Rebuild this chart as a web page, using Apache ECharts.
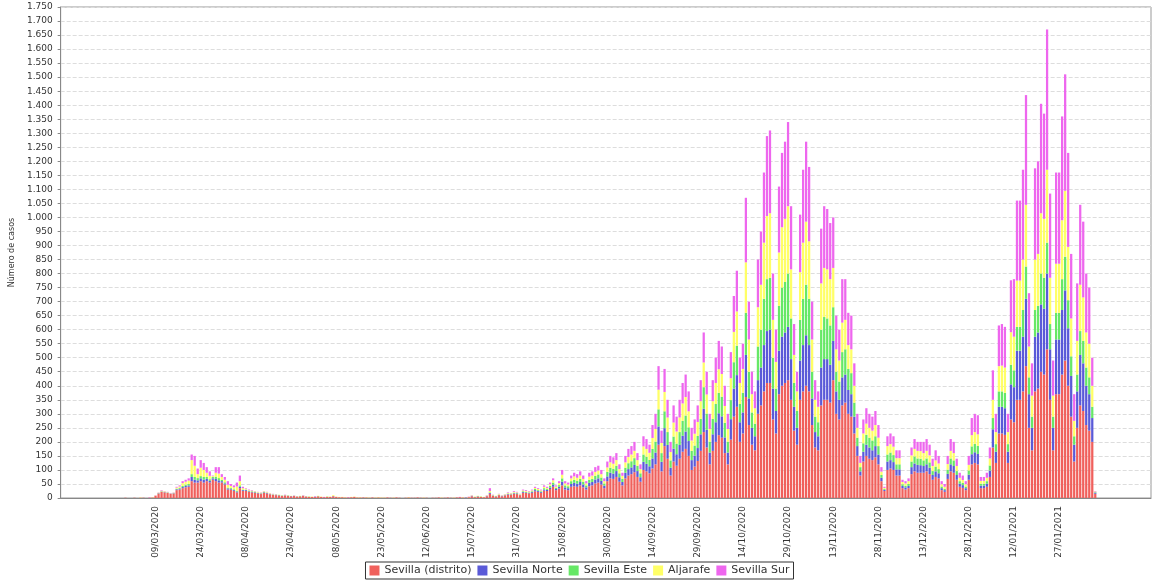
<!DOCTYPE html>
<html><head><meta charset="utf-8">
<script src="https://cdn.jsdelivr.net/npm/echarts@6/dist/echarts.min.js"></script>
<style>html,body{margin:0;padding:0;background:#fff}#c{width:1159px;height:581px}</style>
</head><body><div id="c"></div>
<script>
const seriesNames = ['Sevilla (distrito)','Sevilla Norte','Sevilla Este','Aljarafe','Sevilla Sur'];
const colors = ['#f0605c','#5a5ad8','#66e866','#ffff66','#ee66ee'];
// first data value is 26/02/2020
const startDate = '2020-02-07';
const dataOffset = 19;
const totalCategories = 362;
const lastLabelIndex = 331;
const skippedDates = ['2020-05-24','2020-05-31','2020-06-01','2020-06-07','2020-06-08',
 '2020-06-13','2020-06-14','2020-06-16','2020-06-18','2020-06-20','2020-06-21','2020-06-23','2020-06-25','2020-06-27','2020-06-28','2020-06-30',
 '2020-07-02','2020-07-04','2020-07-05','2020-07-07','2020-07-09','2020-07-11','2020-07-12','2020-07-19'];
const red = [
0,0,1,0,0,1,0,1,1,0,1,2,
8,16,22,20,18,15,16,28,30,35,38,40,60,55,55,60,55,60,55,65,60,55,55,48,30,30,25,20,35,25,
25,22,20,18,16,14,18,16,13,11,10,9,7,9,7,6,7,5,6,7,5,4,4,4,6,4,3,4,4,6,4,3,3,2,2,3,4,2,2,2,2,1,2,1,2,1,
1,2,1,1,2,1,0,1,2,1,1,2,1,1,1,0,1,1,2,1,1,2,1,1,2,3,2,1,3,
6,3,5,4,3,6,15,8,5,10,6,9,12,12,15,14,10,18,18,16,18,24,22,18,26,25,32,40,28,34,
45,30,28,40,42,40,45,38,30,42,45,52,55,48,35,60,70,68,75,58,45,70,80,85,92,75,58,100,95,88,
105,120,190,95,185,140,80,130,115,140,165,175,150,100,112,132,168,235,180,120,168,200,224,215,160,120,208,290,325,200,
230,360,260,190,170,300,330,380,410,410,280,230,370,400,410,420,350,240,190,350,380,400,380,260,180,170,330,350,350,340,
420,300,280,330,340,300,290,230,150,80,130,150,140,135,145,120,60,25,100,105,100,80,80,35,30,35,85,95,90,90,
90,95,85,65,75,70,28,22,68,95,90,65,40,36,28,65,120,125,120,35,35,40,75,180,125,230,230,225,125,280,
270,350,350,380,470,250,170,380,390,450,440,530,350,170,370,370,440,490,400,290,130,250,330,310,260,240,200,15];
const blue = [
0,0,0,0,0,0,0,0,0,0,0,0,
0,1,1,1,1,1,1,3,3,4,5,5,15,10,8,10,10,8,6,5,8,8,5,4,4,3,3,3,5,3,
3,2,2,2,2,2,2,2,1,1,1,1,1,1,1,1,0,1,0,1,1,0,0,1,0,0,0,0,0,1,0,0,0,0,0,0,0,0,0,0,0,0,0,0,0,0,
0,0,0,0,0,0,0,0,0,0,0,0,0,0,0,0,0,0,0,0,0,0,0,0,0,0,0,1,0,
1,0,1,0,0,1,3,1,1,1,1,1,2,1,2,2,1,3,2,2,3,4,3,3,4,4,5,7,4,6,
13,8,7,10,12,11,12,10,8,12,12,14,15,13,9,17,20,19,21,16,12,20,23,24,26,21,16,29,27,25,
36,42,65,34,64,49,28,46,41,49,57,62,53,35,39,46,59,83,63,42,59,70,78,76,56,42,73,100,113,70,
75,150,95,60,50,120,135,165,185,190,110,80,155,175,180,190,145,85,60,140,165,180,165,95,55,50,135,145,145,135,
140,80,70,100,100,85,80,60,35,15,35,40,40,35,40,35,12,4,30,30,28,22,22,8,8,8,25,28,28,27,
24,25,23,17,20,18,7,6,18,25,24,17,11,10,7,18,36,38,37,9,9,11,23,65,40,95,95,95,40,125,
125,175,175,195,240,120,80,195,200,240,235,270,180,80,195,195,230,250,205,145,60,130,180,170,140,130,85,4];
const green = [
0,0,0,0,0,0,0,0,0,0,0,0,
0,1,1,1,1,0,1,2,3,4,5,5,10,10,8,8,10,7,6,5,8,8,5,4,3,3,3,3,5,2,
2,2,2,2,1,1,2,1,1,1,1,1,1,0,1,0,1,0,1,0,0,1,0,0,1,0,0,1,0,0,0,0,0,0,0,0,0,0,0,0,0,0,0,0,0,0,
0,0,0,0,0,0,0,0,0,0,0,0,0,0,0,0,0,0,0,0,0,0,0,0,0,0,0,0,0,
1,1,1,1,0,1,2,1,1,1,1,1,2,2,2,2,1,3,2,2,3,4,3,3,5,3,6,8,4,6,
12,7,7,10,11,10,11,10,7,11,11,13,14,12,8,16,18,17,19,14,11,18,21,22,24,19,14,26,25,23,
34,39,61,31,60,46,26,43,38,46,53,57,49,33,36,43,55,77,58,39,55,65,73,70,52,39,68,94,105,65,
70,150,95,55,45,120,135,165,185,185,110,80,160,175,180,190,145,85,60,145,165,180,165,95,55,50,135,150,145,140,
120,70,65,90,90,75,75,50,30,15,30,35,35,35,35,30,10,3,25,27,25,18,18,6,6,7,20,25,23,23,
20,21,19,14,17,15,6,5,15,21,20,14,9,8,6,15,28,30,29,7,7,9,18,40,27,55,55,55,27,70,
60,85,85,95,115,60,40,95,95,110,110,110,90,40,95,95,110,120,100,70,30,60,85,80,65,60,40,2];
const yellow = [
0,0,0,0,0,0,0,1,0,0,0,1,
1,1,2,2,1,1,1,4,5,10,10,12,50,40,14,30,25,15,12,3,14,16,10,9,10,7,7,15,15,5,
3,2,2,2,2,2,2,2,2,1,1,1,1,1,1,1,0,1,1,1,1,1,1,0,1,1,0,1,1,3,1,1,1,1,0,1,1,1,1,0,1,1,0,1,1,1,
1,0,0,1,0,0,0,0,1,0,0,0,0,1,0,0,0,0,0,1,0,0,0,1,0,0,1,0,1,
1,1,1,1,1,1,5,1,1,2,1,2,2,2,3,2,2,3,3,3,3,4,4,3,5,4,6,8,5,7,
13,7,6,10,12,11,12,10,7,11,12,14,14,12,8,16,19,18,20,15,11,19,22,24,26,20,15,29,28,25,
39,45,70,36,69,52,30,50,43,52,62,66,57,37,42,50,63,88,68,45,63,75,84,81,60,45,78,108,122,75,
85,180,115,65,55,140,160,200,225,230,135,95,190,215,225,240,175,100,70,170,200,225,205,115,60,55,165,175,175,165,
140,80,75,105,105,85,85,60,35,15,35,40,35,35,40,30,12,4,30,30,30,22,22,8,8,10,22,27,27,27,
26,27,25,18,22,20,8,7,20,27,26,18,12,10,8,20,40,42,41,10,10,12,25,65,43,90,92,90,43,116,
120,165,165,180,220,110,75,180,185,215,210,260,165,75,175,175,210,235,190,135,55,120,165,155,125,120,75,2];
const magenta = [
0,0,0,0,0,0,0,0,0,0,1,0,
1,1,2,1,1,1,1,3,4,7,7,8,20,35,20,27,25,20,16,2,20,23,10,10,13,7,7,14,20,5,
2,2,2,1,1,1,1,1,1,1,1,0,0,1,0,0,1,0,0,1,0,0,0,1,0,0,1,0,0,0,0,0,0,0,1,0,0,0,0,0,0,0,0,0,0,0,
0,0,0,0,0,0,0,0,0,0,0,0,0,0,0,0,0,0,0,0,0,0,0,0,0,1,0,0,1,
1,0,0,0,0,1,10,1,0,1,1,1,2,1,3,2,1,3,3,2,3,4,3,3,5,4,6,7,4,7,
17,8,7,10,13,13,15,12,8,14,15,17,17,15,10,21,23,23,25,17,11,23,29,30,32,25,17,36,35,29,
46,54,84,44,82,63,36,61,53,63,73,80,71,45,51,59,75,107,81,54,75,90,101,98,72,54,93,128,145,90,
90,230,135,80,60,170,190,250,285,295,165,115,235,265,275,300,225,110,70,205,260,285,265,135,70,55,195,220,215,200,
180,120,110,155,145,115,120,80,50,25,50,55,50,50,50,45,16,4,35,38,37,28,28,8,8,10,28,35,32,33,
40,42,38,26,36,27,11,10,29,42,40,26,18,16,11,32,61,65,68,14,14,18,39,105,65,145,148,145,65,185,
205,285,285,320,391,190,115,325,330,390,375,500,300,125,325,325,370,415,335,230,95,205,285,270,210,200,100,2];

function pad(n){return (n<10?'0':'')+n;}
const categories = [];
{
  const d = new Date(startDate+'T12:00:00Z');
  while (categories.length < totalCategories) {
    const iso = d.getUTCFullYear()+'-'+pad(d.getUTCMonth()+1)+'-'+pad(d.getUTCDate());
    if (!skippedDates.includes(iso)) categories.push(pad(d.getUTCDate())+'/'+pad(d.getUTCMonth()+1)+'/'+d.getUTCFullYear());
    d.setUTCDate(d.getUTCDate()+1);
  }
}
function place(arr){ return new Array(dataOffset).fill(null).concat(arr); }
const allData = [red, blue, green, yellow, magenta];
const chart = echarts.init(document.getElementById('c'));
chart.setOption({
  animation:false,
  color: colors,
  grid:{left:55,right:8,top:7,bottom:83,show:true,borderColor:'#999',borderWidth:1},
  legend:{bottom:2,left:'center',icon:'rect',itemWidth:10,itemHeight:10,itemGap:6,
    borderColor:'#333',borderWidth:1,padding:[3,4],
    textStyle:{fontSize:11,color:'#333',fontFamily:'DejaVu Sans'}},
  xAxis:{type:'category',data:categories,
    axisLine:{lineStyle:{color:'#888'}},
    axisTick:{show:false},
    axisLabel:{rotate:90,fontSize:9,color:'#333',fontFamily:'DejaVu Sans',
      interval:(i)=> i>=31 && i<=lastLabelIndex && (i-31)%15===0}},
  yAxis:{type:'value',min:0,max:1750,interval:50,
    name:'Número de casos',nameLocation:'middle',nameGap:36,nameRotate:90,
    nameTextStyle:{fontSize:8,color:'#333',fontFamily:'DejaVu Sans'},
    axisLine:{show:true,lineStyle:{color:'#888'}},
    axisTick:{show:true,length:3,lineStyle:{color:'#888'}},
    axisLabel:{fontSize:9,color:'#333',fontFamily:'DejaVu Sans',
      formatter:(v)=>v.toLocaleString('de-DE')},
    splitLine:{lineStyle:{color:'#ddd',type:'dashed'}}},
  series: seriesNames.map((n,i)=>({name:n,type:'bar',stack:'total',data:place(allData[i]),
    barCategoryGap:'25%',itemStyle:{color:colors[i]}}))
});
</script></body></html>
